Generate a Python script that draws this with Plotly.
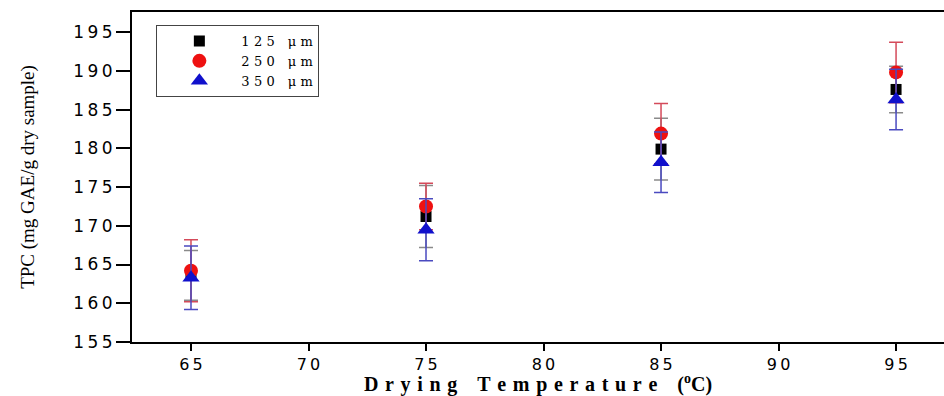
import plotly.graph_objects as go

temps = [65, 75, 85, 95]
series_names = ["125 \u03bcm", "250 \u03bcm", "350 \u03bcm"]
tpc_125 = [163.6, 171.2, 179.9, 187.6]
err_125 = [3.2, 4.0, 4.0, 3.0]
tpc_250 = [164.2, 172.5, 181.9, 189.8]
err_250 = [4.0, 3.0, 3.9, 3.9]
tpc_350 = [163.3, 169.5, 178.2, 186.3]
err_350 = [4.1, 4.0, 3.9, 3.9]

x_ticks = [65, 70, 75, 80, 85, 90, 95]
y_ticks = [155, 160, 165, 170, 175, 180, 185, 190, 195]


def spread(s, sep="\u2004"):
    return sep.join(s)


def legend_label(name):
    num, unit = name.split(" ")
    return spread(num, "\u2004") + "\u2002\u2002" + spread(unit, "\u2004")


fig = go.Figure()
styles = [
    (tpc_125, err_125, "black", "square", 11, "#8a8a8a"),
    (tpc_250, err_250, "#ee1111", "circle", 14, "#d44a5a"),
    (tpc_350, err_350, "#1010cc", "triangle-up", 15, "#4a4ac0"),
]
for name, (vals, errs, col, sym, sz, ecol) in zip(series_names, styles):
    fig.add_trace(go.Scatter(
        x=temps, y=vals, name=legend_label(name), mode="markers",
        marker=dict(color=col, symbol=sym, size=sz),
        error_y=dict(type="data", array=errs, visible=True, color=ecol,
                     thickness=1.5, width=7),
    ))

xt = spread("Drying") + "\u2003" + spread("Temperature") + "\u2003" + "(<sup>o</sup>C)"

fig.update_layout(
    width=944, height=396,
    margin=dict(l=132, r=0, t=12, b=54),
    plot_bgcolor="white", paper_bgcolor="white",
    showlegend=True,
    legend=dict(
        x=0.030, y=0.9606, xanchor="left", yanchor="top",
        bgcolor="white", bordercolor="#444", borderwidth=1,
        font=dict(family="DejaVu Serif, serif", size=13, color="black"),
        itemwidth=74, tracegroupgap=0,
    ),
    xaxis=dict(
        range=[62.49, 97.04], tickvals=x_ticks,
        ticktext=[spread(str(v), "\u2009") for v in x_ticks],
        showgrid=False, zeroline=False, showline=True, linecolor="black", linewidth=2,
        mirror=True, ticks="outside", ticklen=7, tickwidth=2, tickcolor="black",
        tickfont=dict(family="DejaVu Sans, Arial, sans-serif", size=16, color="black"),
        title=dict(text="<b>" + xt + "</b>",
                   font=dict(family="Liberation Serif, Times New Roman, serif", size=20, color="black"),
                   standoff=3),
    ),
    yaxis=dict(
        range=[155, 197.6], tickvals=y_ticks,
        ticktext=[spread(str(v), "\u2009") for v in y_ticks],
        showgrid=False, zeroline=False, showline=True, linecolor="black", linewidth=2,
        mirror=False, ticks="outside", ticklen=14, tickwidth=2, tickcolor="black",
        tickfont=dict(family="DejaVu Sans, Arial, sans-serif", size=17, color="black"),
        title=dict(text="TPC (mg GAE/g dry sample)",
                   font=dict(family="Liberation Serif, Times New Roman, serif", size=19, color="black"),
                   standoff=34),
    ),
)

fig.write_html("out.html", config={"displayModeBar": False},
               post_script="document.body.style.margin='0';document.body.style.padding='0';")
